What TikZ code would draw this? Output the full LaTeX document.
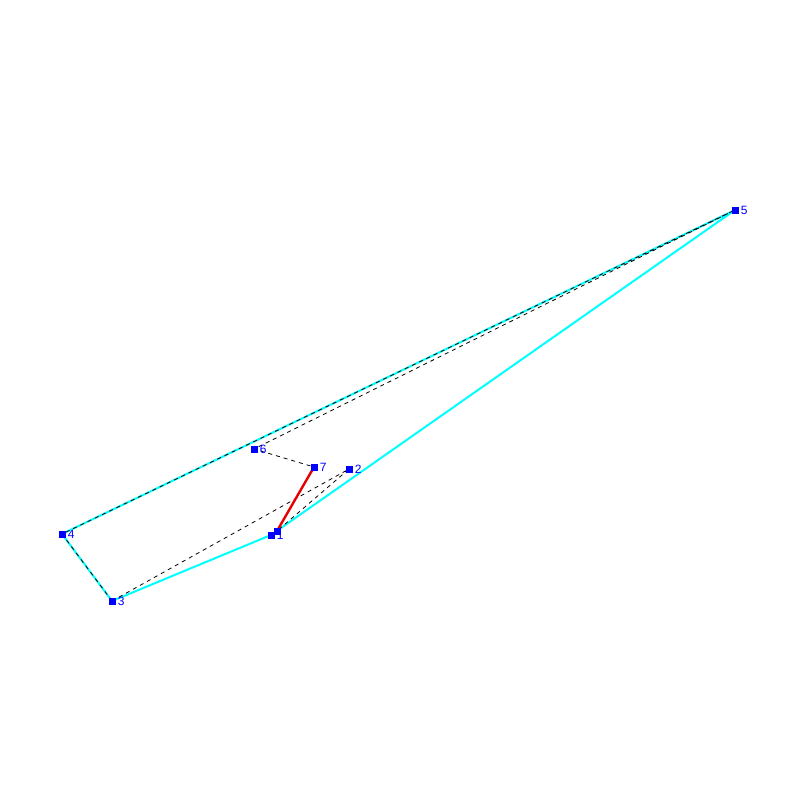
\documentclass[tikz,border=0pt]{standalone}
\usepackage{fontspec}
\setsansfont{Liberation Sans}
\usetikzlibrary{positioning}
\definecolor{hullcyan}{RGB}{0,255,255}
\definecolor{vertblue}{RGB}{0,0,255}
\definecolor{cutred}{RGB}{230,0,0}

\begin{document}
\begin{tikzpicture}[x=1pt,y=-1pt,
  vert/.style={rectangle,fill=vertblue,inner sep=0pt,minimum size=7pt},
  vlabel/.style={text=vertblue,font=\sffamily\fontsize{12}{12}\selectfont,inner sep=0pt},
  hull/.style={hullcyan,line width=2pt},
  diag/.style={black,line width=0.8pt,dash pattern=on 4pt off 4pt},
  cut/.style={cutred,line width=2.4pt}]
\useasboundingbox (0,0) rectangle (800,800);
	\path (271,535) coordinate(p1)
        (277,531) coordinate(q1)
        (349,469) coordinate(p2)
        (112,601) coordinate(p3)
        (62,534) coordinate(p4)
        (735,210) coordinate(p5)
        (254,449) coordinate(p6)
        (314,467) coordinate(p7);
	\draw[hull] (p1) -- (p3) -- (p4) -- (p5) -- cycle;
	\draw[diag] (p3) -- (p4) -- (p5)
        (p5) -- (p6) -- (p7)
        (p3) -- (p2) -- (q1);
	\draw[cut] (p7) -- (q1);
	\foreach \n in {1,...,7}
		\node[vert] (s\n) at (p\n) {};
	\node[vert] (t1) at (q1) {};
	\foreach \n in {1,...,7}
		\node[vlabel,right=2pt of s\n] (l\n) {\n};
\end{tikzpicture}
\end{document}
